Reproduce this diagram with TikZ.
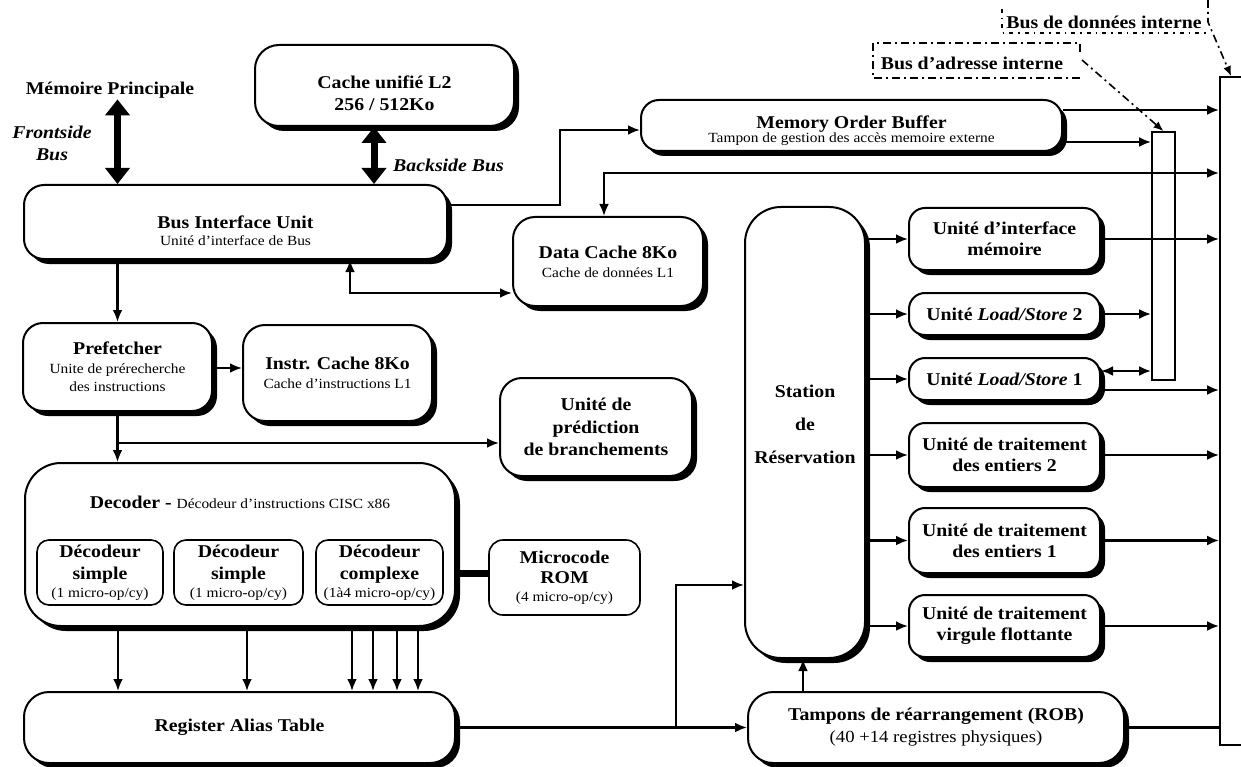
\documentclass[tikz,border=0pt]{standalone}
\usepackage{fontspec}
\setmainfont{Liberation Serif}[FakeStretch=1.1]
\usetikzlibrary{arrows.meta,shadows}

\newcommand{\ftitle}{\fontsize{18}{21}\selectfont\bfseries}
\newcommand{\fsmall}{\fontsize{14}{16}\selectfont\mdseries}
\newcommand{\freg}{\fontsize{17}{21}\selectfont\mdseries}

\tikzset{
  box/.style={draw, line width=2pt, fill=white, rounded corners=#1, inner sep=0pt,
    align=center, font=\ftitle,
    drop shadow={shadow xshift=5pt, shadow yshift=-5pt, fill=black, opacity=1}},
  box/.default=18pt,
  thinbox/.style={draw, line width=1.6pt, fill=white, rounded corners=#1, inner sep=0pt,
    align=center, font=\ftitle},
  thinbox/.default=12pt,
  unit/.style={box=16pt, minimum width=191pt},
  lbl/.style={inner sep=1pt, font=\ftitle, align=center},
  busbar/.style={draw, line width=1.7pt, fill=white, inner sep=0pt},
  conn/.style={line width=2.8pt},
  arr/.style={conn, -{Latex[length=12pt,width=10pt]}},
  darr/.style={conn, {Latex[length=12pt,width=10pt]}-{Latex[length=12pt,width=10pt]}},
  bigarr/.style={line width=7pt, {Triangle[length=16pt,width=24pt]}-{Triangle[length=16pt,width=24pt]}},
  dashdot/.style={line width=1.6pt, dash pattern=on 8pt off 4pt on 2pt off 4pt},
  dotline/.style={line width=1.3pt, dash pattern=on 4pt off 5pt on 1.5pt off 5pt},
}

\begin{document}
\begin{tikzpicture}[x=1pt, y=-1pt]
\useasboundingbox (0,0) rectangle (1241,767);
\clip (0,0) rectangle (1241,767);
\fill[white] (0,0) rectangle (1241,767);

% ---- memory side -------------------------------------------------------
\node[lbl] (mem) at (110,90) {Mémoire Principale};
\node[lbl, font=\ftitle\itshape] (fsb) at (52,143.5) {Frontside\\[1pt]Bus};
\node[box=24pt, minimum width=259pt, minimum height=81pt] (l2) at (384.5,85.5) {};
\node[lbl] (l2t) at (384.5,93) {Cache unifié L2\\[1pt]256 / 512Ko};
\node[lbl, font=\ftitle\itshape] (bsb) at (448.5,165) {Backside Bus};

\node[box=20pt, minimum width=423pt, minimum height=74pt] (biu) at (235.5,222) {};
\node[lbl] (biut) at (235.5,231) {Bus Interface Unit\\[-4pt]{\fsmall Unité d'interface de Bus}};

\node[box=18pt, minimum width=421pt, minimum height=51pt] (mob) at (851.5,125.5) {};
\node[lbl] (mobt) at (851.5,131) {Memory Order Buffer\\[-7pt]{\fsmall Tampon de gestion des accès memoire externe}};

\node[box=22pt, minimum width=190pt, minimum height=89pt] (dc) at (608,261.5)
  {Data Cache 8Ko\\[-2pt]{\fsmall Cache de données L1}};

% ---- front end ---------------------------------------------------------
\node[box=20pt, minimum width=189pt, minimum height=88pt] (pf) at (117.5,367)
  {Prefetcher\\[-2pt]{\fsmall Unite de prérecherche}\\[-3pt]{\fsmall des instructions}};
\node[box=22pt, minimum width=189pt, minimum height=96pt] (ic) at (337.5,373)
  {Instr. Cache 8Ko\\[-2pt]{\fsmall Cache d'instructions L1}};
\node[box=22pt, minimum width=192pt, minimum height=98pt] (pred) at (596,427)
  {Unité de\\[1.5pt]prédiction\\[1.5pt]de branchements};

\node[box=36pt, minimum width=430pt, minimum height=163pt] (dec) at (240,544.5) {};
\node[lbl] (dect) at (240,502) {Decoder - {\fsmall Décodeur d'instructions CISC x86}};
\node[thinbox, minimum width=126pt, minimum height=65pt] (sd1) at (100,572.5)
  {Décodeur\\[1pt]simple\\[-3pt]{\fsmall (1 micro-op/cy)}};
\node[thinbox, minimum width=129pt, minimum height=65pt] (sd2) at (238.5,572.5)
  {Décodeur\\[1pt]simple\\[-3pt]{\fsmall (1 micro-op/cy)}};
\node[thinbox, minimum width=127pt, minimum height=65pt] (cd) at (379.5,572.5)
  {Décodeur\\[1pt]complexe\\[-3pt]{\fsmall (1à4 micro-op/cy)}};
\node[thinbox=14pt, minimum width=151pt, minimum height=75pt] (rom) at (564.5,577.5)
  {Microcode\\[-1pt]ROM\\[-3pt]{\fsmall (4 micro-op/cy)}};

\node[box=25pt, minimum width=431pt, minimum height=71pt] (rat) at (239.5,727.5) {Register Alias Table};
\node[box=25pt, minimum width=376pt, minimum height=71pt] (rob) at (936,727.5)
  {Tampons de réarrangement (ROB)\\[1pt]{\freg (40 +14 registres physiques)}};

% ---- execution core ----------------------------------------------------
\node[box=36pt, minimum width=120pt, minimum height=451pt] (st) at (805,432.5) {};
\node[lbl] (stt) at (805,424) {Station\\[12pt]de\\[12pt]Réservation};

\node[unit, minimum height=62pt] (u1) at (1004.5,239) {Unité d'interface\\mémoire};
\node[unit, minimum height=42pt] (u2) at (1004.5,314) {Unité \textit{Load/Store} 2};
\node[unit, minimum height=42pt] (u3) at (1004.5,379) {Unité \textit{Load/Store} 1};
\node[unit, minimum height=64pt] (u4) at (1004.5,455) {Unité de traitement\\des entiers 2};
\node[unit, minimum height=65pt] (u5) at (1004.5,540.5) {Unité de traitement\\des entiers 1};
\node[unit, minimum height=62pt] (u6) at (1004.5,626) {Unité de traitement\\virgule flottante};

% ---- internal buses ----------------------------------------------------
\node[busbar, minimum width=23pt, minimum height=248pt] (abus) at (1163.5,256) {};
\node[busbar, minimum width=50pt, minimum height=668pt] (dbus) at (1245,411) {};

\node[lbl] (adr) at (972,63) {Bus d'adresse interne};
\draw[dashdot] (1080,78) -- (873,78) -- (873,43) -- (1080,43) -- (1080,55);
\draw[dashdot, -{Latex[length=10pt,width=8pt]}] (1082,60) -- (abus.north);

\node[lbl] (dat) at (1104,22) {Bus de données interne};
\draw[dotline] (1002,9) -- (1002,33) -- (1206,33);
\draw[dashdot, -{Latex[length=10pt,width=8pt]}] (1208,0) -- (1208,22) -- ([xshift=12pt]dbus.north west);

% ---- connectors --------------------------------------------------------
\draw[bigarr] (mem.south -| pf.north) -- (biu.north -| pf.north);
\draw[bigarr] (l2.south -| 374,0) -- (biu.north -| 374,0);

\draw[arr] (biu.east |- 0,205) -| (560,130) -- (mob.west |- 0,130);
\draw[darr] (dc.north -| 604,0) |- (dbus.west |- 0,173);
\draw[darr] (biu.south -| 350,0) |- (dc.west |- 0,293);
\draw[arr] (biu.south -| pf.north) -- (pf.north);
\draw[arr] (pf.east |- 0,368) -- (ic.west |- 0,368);
\draw[arr] (pf.south) -- (dec.north -| pf.south);
\draw[arr] (pf.south |- 0,443) -- (pred.west |- 0,443);
\draw[line width=7pt] (dec.east |- 0,573) -- (rom.west |- 0,573);
\foreach \x in {118,247,352,373,397,418}
  \draw[arr] (dec.south -| \x,0) -- (rat.north -| \x,0);

\draw[arr] (rat.east) -- (rob.west);
\draw[arr] (rat.east -| 676,0) |- (st.west |- 0,585);
\draw[arr] (rob.north -| 803,0) -- (st.south -| 803,0);

\foreach \u in {u1,u2,u3,u4,u5,u6}
  \draw[arr] (st.east |- \u.west) -- (\u.west);
\foreach \u in {u1,u4,u5,u6}
  \draw[arr] (\u.east) -- (dbus.west |- \u.east);
\draw[arr] (u2.east) -- (abus.west |- u2.east);
\draw[darr] (u3.east |- 0,371) -- (abus.west |- 0,371);
\draw[arr] (u3.east |- 0,390) -- (dbus.west |- 0,390);

\draw[arr] (mob.east |- 0,110) -- (dbus.west |- 0,110);
\draw[arr] (mob.east |- 0,142) -- (abus.west |- 0,142);
\draw[conn] (rob.east) -- (dbus.west |- rob.east);
\end{tikzpicture}
\end{document}
